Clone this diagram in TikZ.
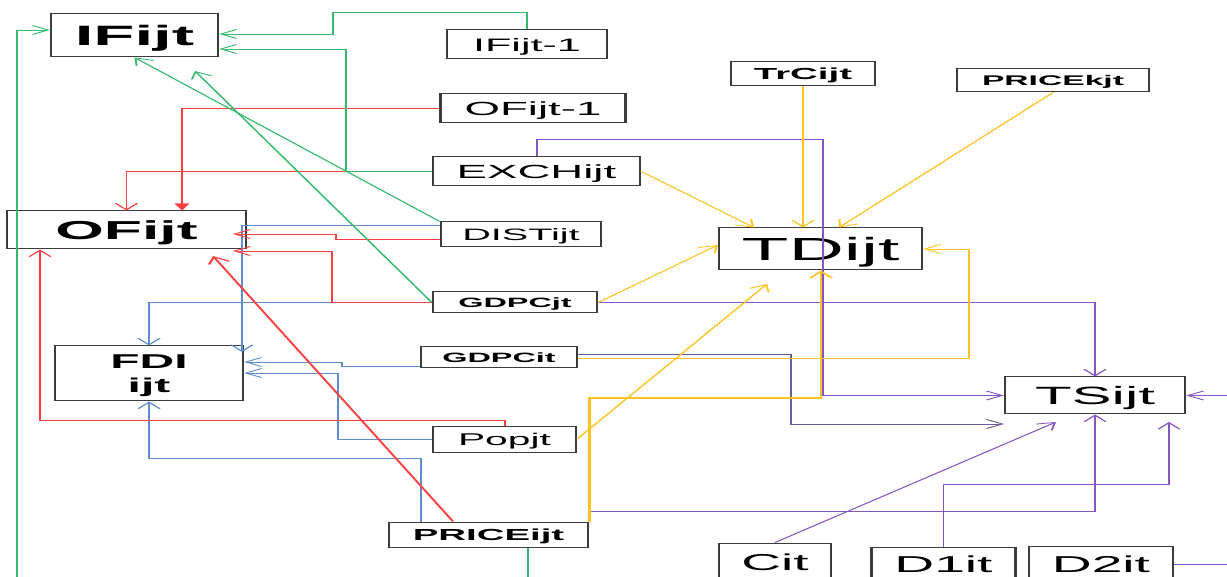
\documentclass[tikz,border=0pt]{standalone}
\usepackage{fontspec}
\setmainfont{Liberation Sans}
\usetikzlibrary{arrows.meta}

\definecolor{boxc}{RGB}{60,60,60}
\definecolor{lgreen}{RGB}{55,185,110}
\definecolor{lred}{RGB}{250,65,65}
\definecolor{lblue}{RGB}{95,140,205}
\definecolor{lyellow}{RGB}{255,195,35}
\definecolor{lpurple}{RGB}{135,85,195}
\definecolor{dpurple}{RGB}{110,90,150}

\newcommand{\setfs}[1]{\fontsize{#1}{#1}\selectfont}

\tikzset{
  box/.style={draw=boxc, line width=1pt, inner sep=0pt, align=center, text=black, text depth=0pt},
  sz/.style 2 args={minimum width={#1pt/2.4}, minimum height=#2pt},
  fr/.style={font=\setfs{#1}},
  fb/.style={font=\bfseries\setfs{#1}},
  tip/.style={-{Straight Barb[length=6.5pt,width=9pt]}},
  conn/.style={line width=0.8pt},
  gline/.style={conn, draw=lgreen},
  rline/.style={conn, draw=lred},
  bline/.style={conn, draw=lblue},
  yline/.style={conn, draw=lyellow},
  pline/.style={conn, draw=lpurple},
  pdline/.style={conn, draw=dpurple},
}

\begin{document}
\begin{tikzpicture}[x=1pt, y=-1pt]
\path[use as bounding box, fill=white] (0,0) rectangle (1227,577);
\clip (0,0) rectangle (1227,577);

% the whole layout is drawn in a horizontally widened frame
\begin{scope}[transform canvas={xscale=2.4}, x=0.416667pt, y=-1pt]

% ---------- variables ----------
\node[box, sz={167}{43}, fb=28] (ifijt) at (134.5,35.5) {IFijt};
\node[box, sz={160}{29}, fr=18] (ifm1) at (527,44.5) {IFijt-1};
\node[box, sz={185}{29}, fr=19] (ofm1) at (533,108.5) {OFijt-1};
\node[box, sz={144}{24}, fb=16] (trc) at (803,74) {TrCijt};
\node[box, sz={192}{23}, fb=14] (pk) at (1053,80.5) {PRICEkjt};
\node[box, sz={207}{29}, fr=19] (exch) at (536.5,171.5) {EXCHijt};
\node[box, sz={239}{38}, fb=26] (ofijt) at (126.5,230) {OFijt};
\node[box, sz={160}{25}, fr=16.5] (dist) at (521,234.5) {DISTijt};
\node[box, sz={203}{42}, fr=32] (td) at (820.5,249) {TDijt};
\node[box, sz={164}{21}, fb=13.5] (gdpcjt) at (515,302.5) {GDPCjt};
\node[box, sz={156}{21}, fb=13.5] (gdpcit) at (499,357.5) {GDPCit};
\node[box, sz={188}{55}, font=\bfseries\fontsize{20}{24}\selectfont] (fdi) at (149,373.5) {FDI\\ijt};
\node[box, sz={180}{37}, fr=25] (ts) at (1095,395.5) {TSijt};
\node[box, sz={143}{26}, fr=17] (pop) at (504.5,439) {Popjt};
\node[box, sz={199}{25}, fb=16] (pijt) at (488.5,534.5) {PRICEijt};
\node[box, sz={112}{38}, fr=23] (cit) at (775,562) {Cit};
\node[box, sz={144}{34}, fr=23] (d1) at (943.5,564) {D1it};
\node[box, sz={144}{36}, fr=23] (d2) at (1101,564) {D2it};

% ---------- bend points and free ends ----------
\coordinate (g1a) at (333,12);
\coordinate (g1b) at (333,34);
\coordinate (g2a) at (346,49);
\coordinate (g4e) at (195,71);
\coordinate (g5a) at (17,590);
\coordinate (g5b) at (17,30);
\coordinate (g6e) at (528,590);
\coordinate (r1a) at (182,108);
\coordinate (r3a) at (336,239);
\coordinate (r3b) at (336,234);
\coordinate (r3e) at (233,234);
\coordinate (r4a) at (332,251);
\coordinate (r4e) at (233,251);
\coordinate (r5a) at (453,517);
\coordinate (r5e) at (213,256);
\coordinate (r6a) at (505,420);
\coordinate (r6b) at (40,420);
\coordinate (b1a) at (242,225);
\coordinate (b1e) at (242,352);
\coordinate (b3a) at (342,366);
\coordinate (b3b) at (342,362);
\coordinate (b4a) at (338,373);
\coordinate (b5a) at (421,458);
\coordinate (y2e) at (839,228);
\coordinate (y3e) at (754,228);
\coordinate (y4e) at (719,245);
\coordinate (y5e) at (767,284);
\coordinate (y6a) at (969,358);
\coordinate (y6b) at (969,249);
\coordinate (y7a) at (821,398);
\coordinate (p1a) at (537,139);
\coordinate (p1b) at (823,395.5);
\coordinate (p3a) at (791,354);
\coordinate (p3e) at (1004,424);
\coordinate (p4e) at (1056,422);
\coordinate (p5a) at (1095,511);
\coordinate (p6b) at (1169,484);
\coordinate (p6e) at (1169,422);
\coordinate (p7e) at (1240,564);
\coordinate (p8s) at (1240,395.5);

% ---------- inputs of FDI (blue) ----------
\draw[bline,tip] (dist.west |- b1a) -- (b1a) -- (b1e);
\draw[bline,tip] (gdpcjt.west) -| (fdi.north);
\draw[bline,tip] (gdpcit.west |- b3a) -- (b3a) -- (b3b) -- (fdi.east |- b3b);
\draw[bline,tip] (pop.west) -| (b4a) -- (fdi.east |- b4a);
\draw[bline,tip] (pijt.north -| b5a) -- (b5a) -| (fdi.south);

% ---------- inputs of OFijt (red) ----------
\draw[rline, line width=1.1pt, -{Triangle[length=7pt,width=6pt]}] (ofm1.west) -| (ofijt.north -| r1a);
\draw[rline,tip] (exch.west) -| (ofijt.north);
\draw[rline,tip] (dist.west |- r3a) -- (r3a) -- (r3b) -- (r3e);
\draw[rline,tip] (gdpcjt.west) -| (r4a) -- (r4e);
\draw[rline,tip,line width=1pt] (pijt.north -| r5a) -- (r5e);
\draw[rline,tip] (pop.north -| r6a) |- (r6b) -- (ofijt.south -| r6b);

% ---------- inputs of IFijt (green) ----------
\draw[gline,tip] (ifm1.north) |- (g1a) -- (g1b) -- (ifijt.east |- g1b);
\draw[gline,tip] (exch.west) -| (g2a) -- (ifijt.east |- g2a);
\draw[gline,tip] (dist.north west) -- (ifijt.south);
\draw[gline,tip] (gdpcjt.west) -- (g4e);
\draw[gline,tip] (g5a) -- (g5b) -- (ifijt.west |- g5b);
\draw[gline] (pijt.south -| g6e) -- (g6e);

% ---------- inputs of TSijt (purple) ----------
\draw[pline,tip] (exch.north -| p1a) -- (p1a) -| (p1b) -- (ts.west |- p1b);
\draw[pline,tip] (gdpcjt.east) -| (ts.north);
\draw[pdline,tip] (gdpcit.east |- p3a) -- (p3a) |- (p3e);
\draw[pline,tip] (cit.north) -- (p4e);
\draw[pline,tip] (pijt.north east) |- (p5a) -- (ts.south);
\draw[pline,tip] (d1.north) |- (p6b) -- (p6e);
\draw[pline] (d2.east) -- (p7e);
\draw[pline,tip] (p8s) -- (ts.east);

% ---------- inputs of TDijt (yellow) ----------
\draw[yline,tip] (trc.south) -- (td.north -| trc.south);
\draw[yline,tip] (pk.south) -- (td.north -| y2e);
\draw[yline,tip] (exch.east) -- (td.north -| y3e);
\draw[yline,tip] (gdpcjt.east) -- (td.west |- y4e);
\draw[yline,tip] (pop.east) -- (y5e);
\draw[yline,tip] (gdpcit.east |- y6a) -- (y6a) -- (y6b) -- (td.east |- y6b);
\draw[yline,tip,line width=1.1pt] (pijt.north east) |- (y7a) -- (td.south -| y7a);

\end{scope}
\end{tikzpicture}
\end{document}
